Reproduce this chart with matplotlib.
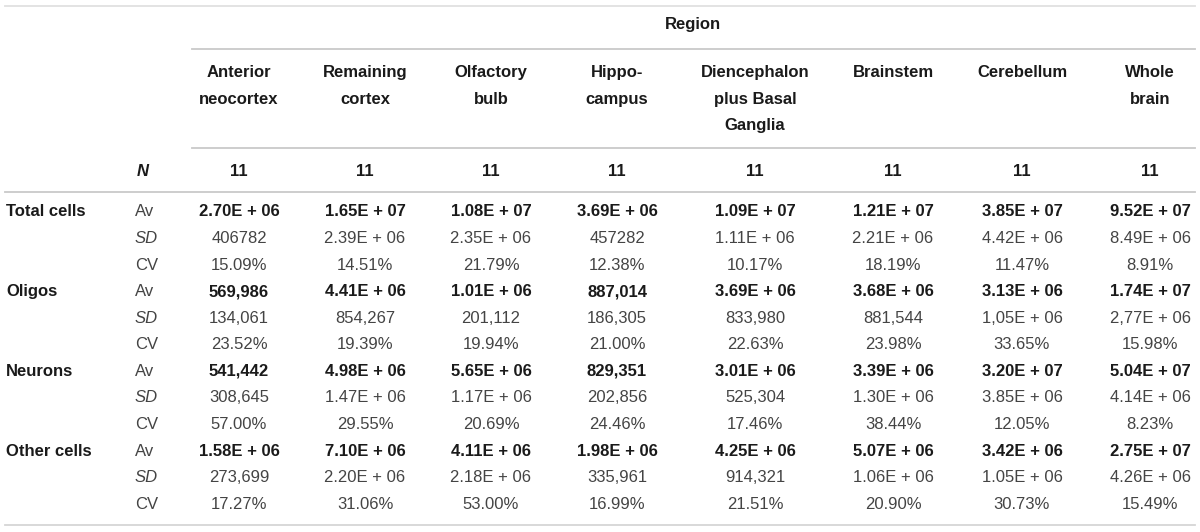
import matplotlib
matplotlib.use("Agg")
import matplotlib.pyplot as plt

plt.rcParams["font.family"] = ["Liberation Sans", "DejaVu Sans"]

# ------------------------------------------------------------
# table content
# ------------------------------------------------------------
regions = ["Anterior\nneocortex", "Remaining\ncortex", "Olfactory\nbulb",
           "Hippo-\ncampus", "Diencephalon\nplus Basal\nGanglia",
           "Brainstem", "Cerebellum", "Whole\nbrain"]
n_values = ["11", "11", "11", "11", "11", "11", "11", "11"]
cell_types = ["Total cells", "Oligos", "Neurons", "Other cells"]
stat_labels = ["Av", "SD", "CV"]

total_av = ["2.70E + 06", "1.65E + 07", "1.08E + 07", "3.69E + 06",
            "1.09E + 07", "1.21E + 07", "3.85E + 07", "9.52E + 07"]
total_sd = ["406782", "2.39E + 06", "2.35E + 06", "457282",
            "1.11E + 06", "2.21E + 06", "4.42E + 06", "8.49E + 06"]
total_cv = ["15.09%", "14.51%", "21.79%", "12.38%",
            "10.17%", "18.19%", "11.47%", "8.91%"]

oligo_av = ["569,986", "4.41E + 06", "1.01E + 06", "887,014",
            "3.69E + 06", "3.68E + 06", "3.13E + 06", "1.74E + 07"]
oligo_sd = ["134,061", "854,267", "201,112", "186,305",
            "833,980", "881,544", "1,05E + 06", "2,77E + 06"]
oligo_cv = ["23.52%", "19.39%", "19.94%", "21.00%",
            "22.63%", "23.98%", "33.65%", "15.98%"]

neuron_av = ["541,442", "4.98E + 06", "5.65E + 06", "829,351",
             "3.01E + 06", "3.39E + 06", "3.20E + 07", "5.04E + 07"]
neuron_sd = ["308,645", "1.47E + 06", "1.17E + 06", "202,856",
             "525,304", "1.30E + 06", "3.85E + 06", "4.14E + 06"]
neuron_cv = ["57.00%", "29.55%", "20.69%", "24.46%",
             "17.46%", "38.44%", "12.05%", "8.23%"]

other_av = ["1.58E + 06", "7.10E + 06", "4.11E + 06", "1.98E + 06",
            "4.25E + 06", "5.07E + 06", "3.42E + 06", "2.75E + 07"]
other_sd = ["273,699", "2.20E + 06", "2.18E + 06", "335,961",
            "914,321", "1.06E + 06", "1.05E + 06", "4.26E + 06"]
other_cv = ["17.27%", "31.06%", "53.00%", "16.99%",
            "21.51%", "20.90%", "30.73%", "15.49%"]

blocks = [
    [total_av, total_sd, total_cv],
    [oligo_av, oligo_sd, oligo_cv],
    [neuron_av, neuron_sd, neuron_cv],
    [other_av, other_sd, other_cv],
]

# ------------------------------------------------------------
# layout (pixel coordinates)
# ------------------------------------------------------------
W, H = 1200, 532
col_x = [239, 365, 491, 617, 755, 893, 1022, 1150]
row0_y = 211.8
row_step = 26.6
FS = 12
BOLD_C = "#1a1a1a"
REG_C = "#444444"
LINE_C = "#c9c9c9"

fig = plt.figure(figsize=(W / 100, H / 100), dpi=100)
ax = fig.add_axes([0, 0, 1, 1])
ax.set_xlim(0, W)
ax.set_ylim(H, 0)
ax.axis("off")

# rules
ax.plot([5, 1195], [5.7, 5.7], color="#e0e0e0", lw=1.3)
ax.plot([192, 1195], [49.3, 49.3], color=LINE_C, lw=1.3)
ax.plot([192, 1195], [148.3, 148.3], color=LINE_C, lw=1.3)
ax.plot([5, 1195], [191.7, 191.7], color=LINE_C, lw=1.3)
ax.plot([5, 1195], [524.5, 524.5], color="#d6d6d6", lw=1.3)

# header
ax.text(693, 25, "Region", ha="center", va="center", fontsize=FS,
        fontweight="bold", color=BOLD_C)
for x, name in zip(col_x, regions):
    for i, part in enumerate(name.split("\n")):
        ax.text(x, 72.7 + 26.6 * i, part, ha="center", va="center",
                fontsize=FS, fontweight="bold", color=BOLD_C)

ax.text(137, 171, "N", ha="left", va="center", fontsize=FS,
        fontweight="bold", fontstyle="italic", color=BOLD_C)
for x, n in zip(col_x, n_values):
    ax.text(x, 171, n, ha="center", va="center", fontsize=FS,
            fontweight="bold", color=BOLD_C)

# body
for b, (ctype, rows) in enumerate(zip(cell_types, blocks)):
    for r, (stat, vals) in enumerate(zip(stat_labels, rows)):
        y = row0_y + row_step * (3 * b + r)
        if r == 0:
            ax.text(6, y, ctype, ha="left", va="center", fontsize=FS,
                    fontweight="bold", color=BOLD_C)
        ax.text(135, y, stat, ha="left", va="center", fontsize=FS,
                fontstyle="italic" if stat == "SD" else "normal", color=REG_C)
        for x, v in zip(col_x, vals):
            ax.text(x, y, v, ha="center", va="center", fontsize=FS,
                    fontweight="bold" if r == 0 else "normal",
                    color=BOLD_C if r == 0 else REG_C)

fig.savefig("out.png", dpi=100)
plt.close()
